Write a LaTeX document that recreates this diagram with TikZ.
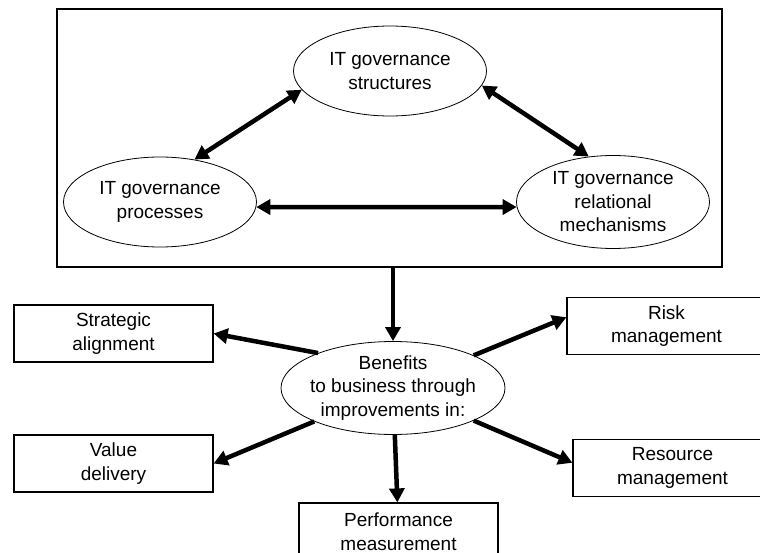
\documentclass[tikz,border=0pt]{standalone}
\usepackage{fontspec}
\setmainfont{Liberation Sans}
\usetikzlibrary{shapes.geometric,arrows.meta}
\tikzstyle{panelbox} = [rectangle,
                        minimum width=665pt,
                        minimum height=258pt,
                        draw=black,
                        line width=1.2pt]
\tikzstyle{governance} = [ellipse,
                          minimum width=193pt,
                          minimum height=90pt,
                          inner sep=0pt,
                          align=center,
                          draw=black,
                          line width=0.8pt]
\tikzstyle{hub} = [ellipse,
                   minimum width=224pt,
                   minimum height=93pt,
                   inner xsep=-6pt,
                   inner ysep=0pt,
                   align=center,
                   draw=black,
                   line width=0.8pt]
\tikzstyle{outcome} = [rectangle,
                       minimum width=199pt,
                       minimum height=57pt,
                       align=center,
                       draw=black,
                       line width=1.2pt]
\tikzstyle{arrow} = [line width=4.5pt,
                     ->,
                     >={Triangle[length=14pt,width=15pt]}]
\tikzstyle{twoway} = [line width=4.5pt,
                      <->,
                      >={Triangle[length=14pt,width=15pt]}]

\begin{document}
\begin{tikzpicture}[x=1pt, y=-1pt, node distance=131pt,
                    font=\fontsize{19pt}{23.5pt}\selectfont]
    \useasboundingbox (0,0) rectangle (760,553);

    \node (panel)    [panelbox]                                           at (389.5,138) {};
    \node (struct)   [governance]                                         at (390,71)    {IT governance\\structures};
    \node (proc)     [governance, below of=struct, xshift=-230pt]                        {IT governance\\processes};
    \node (rel)      [governance, below of=struct, xshift=223pt, minimum height=93pt]    {IT governance\\relational\\mechanisms};

    \node (benef)    [hub]                                                at (393,388)   {Benefits\\to business through\\improvements in:};
    \node (strat)    [outcome, left of=benef,  node distance=279.5pt, yshift=54.5pt]     {Strategic\\alignment};
    \node (value)    [outcome, left of=benef,  node distance=279.5pt, yshift=-75.5pt]    {Value\\delivery};
    \node (risk)     [outcome, right of=benef, node distance=273.5pt, yshift=62pt]       {Risk\\management};
    \node (resource) [outcome, right of=benef, node distance=279.5pt, yshift=-80pt]      {Resource\\management};
    \node (perf)     [outcome, below of=benef, node distance=143.5pt, xshift=5.5pt]      {Performance\\measurement};

    \draw [twoway] (struct.192) -- (proc.51);
    \draw [twoway] (struct.351) -- (rel.118);
    \draw [twoway] (proc.357)   -- (rel.183);

    \draw [arrow] (benef.north |- panel.south) -- (benef.north);

    \draw [arrow] (benef.155) -- (strat.east);
    \draw [arrow] (benef.203) -- (value.east);
    \draw [arrow] (benef.22)  -- (risk.175);
    \draw [arrow] (benef.338) -- (resource.177);
    \draw [arrow] (benef)     -- (perf);

  \end{tikzpicture}
\end{document}
